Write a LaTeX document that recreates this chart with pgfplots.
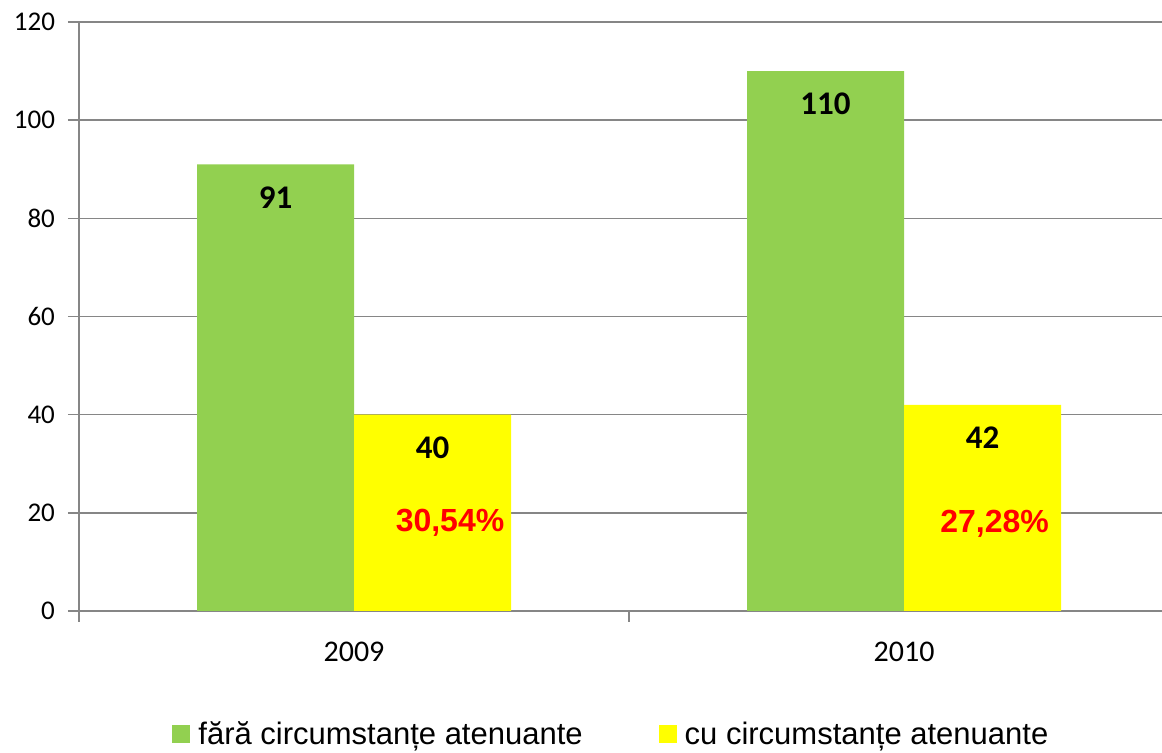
\documentclass[border=0pt]{standalone}
\usepackage{fontspec}
\setmainfont{Liberation Sans}
\newfontfamily\carlito{Carlito}
\usepackage{pgfplots}
\pgfplotsset{compat=1.18}

\definecolor{bargreen}{HTML}{92D050}
\definecolor{baryellow}{HTML}{FFFF00}
\definecolor{gridgray}{HTML}{868686}

\begin{document}
\begin{tikzpicture}
\begin{axis}[
  at={(0pt,0pt)}, anchor=south west,
  scale only axis,
  width=541.5pt, height=294.5pt,
  xmin=-0.5, xmax=1.469,
  ymin=0, ymax=120,
  ytick={0,20,...,120},
  xtick={-0.5,0.5,1.5},
  xticklabels={,,},
  extra x ticks={0,1},
  extra x tick labels={2009,2010},
  extra x tick style={major tick length=0pt,
    tick label style={font=\carlito\fontsize{15}{18}\selectfont, yshift=-12pt}},
  axis x line*=bottom, axis y line*=left,
  axis line style={gridgray, line width=0.75pt},
  tick style={gridgray, line width=0.75pt},
  tick align=outside,
  major tick length=5.5pt,
  ymajorgrids,
  grid style={gridgray, line width=0.75pt},
  /pgf/number format/assume math mode=true,
  yticklabel style={font=\carlito\fontsize{13.5}{15}\selectfont, xshift=-3pt},
  legend columns=2,
  legend style={at={(0.0859,-0.18)}, anchor=north west, draw=none,
    inner sep=0pt, font=\fontsize{15.5}{18}\selectfont,
    /tikz/every odd column/.append style={column sep=2pt},
    /tikz/every even column/.append style={column sep=36pt}},
  legend image code/.code={\fill[#1] (0pt,-4.5pt) rectangle (9pt,4.5pt);},
]

% without mitigating circumstances
\addplot[ybar, bar width=78.5pt, bar shift=-39.25pt, fill=bargreen, draw=none,
  nodes near coords,
  every node near coord/.append style={anchor=center, xshift=-39.25pt, yshift=-16.5pt,
    font=\carlito\bfseries\fontsize{16.5}{19}\selectfont}]
  coordinates {(0,91) (1,110)};
\addlegendentry{fără circumstanțe atenuante}

% with mitigating circumstances
\addplot[ybar, bar width=78.5pt, bar shift=39.25pt, fill=baryellow, draw=none,
  nodes near coords,
  every node near coord/.append style={anchor=center, xshift=39.25pt, yshift=-16.5pt,
    font=\carlito\bfseries\fontsize{16.5}{19}\selectfont}]
  coordinates {(0,40) (1,42)};
\addlegendentry{cu circumstanțe atenuante}

% percentage labels
\addplot[draw=none, mark=none, forget plot, nodes near coords,
  point meta=explicit symbolic,
  every node near coord/.append style={anchor=center, xshift=48pt, text=red,
    font=\bfseries\fontsize{16}{19}\selectfont}]
  coordinates {(0,18) [30,54\%]};
\addplot[draw=none, mark=none, forget plot, nodes near coords,
  point meta=explicit symbolic,
  every node near coord/.append style={anchor=center, xshift=45.25pt, text=red,
    font=\bfseries\fontsize{16}{19}\selectfont}]
  coordinates {(1,17.7) [27,28\%]};

\end{axis}
\pgfresetboundingbox
\useasboundingbox (-39.5pt,-71pt) rectangle (541.5pt,305.5pt);
\end{tikzpicture}
\end{document}
